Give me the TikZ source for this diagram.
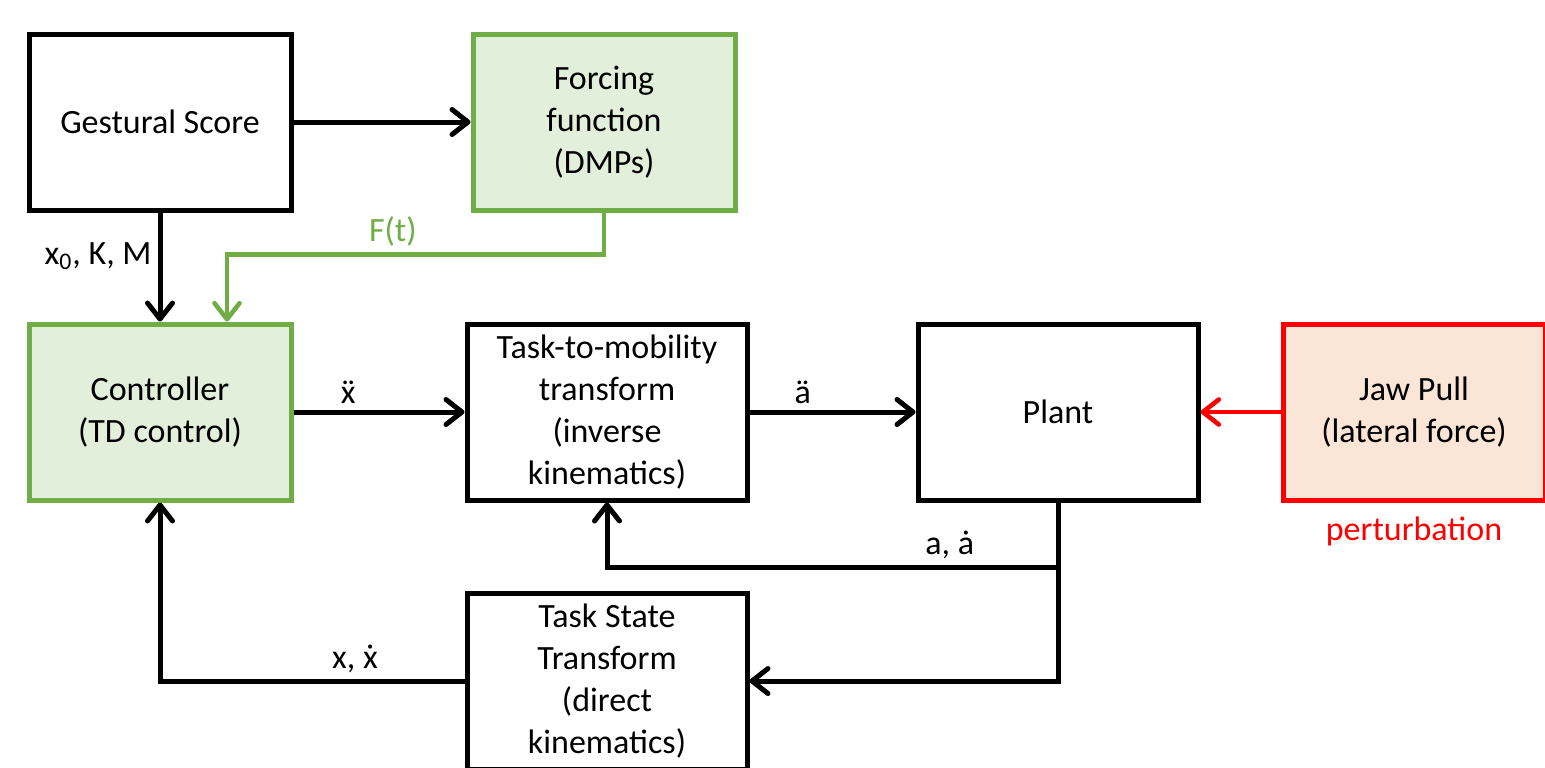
\documentclass[tikz,border=0pt]{standalone}
\usepackage{fontspec}
\setmainfont{Carlito}
\usepackage{tikz}
\usetikzlibrary{
  arrows.meta,
  positioning,
  calc
}
\definecolor{dgGreen}{HTML}{70AD47}
\definecolor{dgGreenLight}{HTML}{E2EFDA}
\definecolor{dgRed}{HTML}{FF0000}
\definecolor{dgRedLight}{HTML}{FBE5D6}
% dots over a letter, from the spacing accents of the font
\newcommand{\dgddot}[1]{\accent"00A8 #1}
\newcommand{\dgdot}[1]{\accent"02D9 #1}
\tikzset{
  dgnode/.style={
    draw, line width=2.5pt, minimum height=88pt, inner sep=1pt,
    font=\fontsize{17}{21}\selectfont, align=center
  },
  dgbox/.style={dgnode, minimum width=131pt},
  dgwide/.style={dgnode, minimum width=140pt},
  ctrlbox/.style={dgbox, fill=dgGreenLight, draw=dgGreen},
  pertbox/.style={dgbox, fill=dgRedLight, draw=dgRed},
  sig/.style={-{Straight Barb[length=8pt, width=12.5pt, round]}, line width=2.5pt},
  fsig/.style={sig, line width=2.3pt, dgGreen},
  psig/.style={sig, line width=2.3pt, dgRed},
  lbl/.style={font=\fontsize{17}{21}\selectfont, inner sep=3pt}
}
\begin{document}
\begin{tikzpicture}[x=0.5pt, y=-0.5pt]
  \useasboundingbox (0,0) rectangle (1545,767);
  % blocks
  \node[dgbox] (gest) at (160,122) {Gestural Score};
  \node[ctrlbox, right=88.5pt of gest] (forc) {Forcing\\function\\(DMPs)};
  \node[ctrlbox, below=54.5pt of gest] (ctrl) {Controller\\(TD control)};
  \node[dgwide, right=85.5pt of ctrl] (task) {Task-to-mobility\\transform\\(inverse\\kinematics)};
  \node[dgwide, right=83pt of task] (plant) {Plant};
  \node[pertbox, right=40pt of plant] (jaw) {Jaw Pull\\(lateral force)};
  \node[dgwide, below=44pt of task] (state) {Task State\\Transform\\(direct\\kinematics)};
  \node[lbl, text=dgRed, below=4pt of jaw] (pert) {perturbation};
  % signals
  \draw[sig] (gest) -- (forc);
  \draw[sig] (gest) -- node[lbl, left, pos=0.4] (kparams) {x\textsubscript{0}, K, M} (ctrl);
  \draw[fsig] (forc.south) -- ++(0,42) -| node[lbl, text=dgGreen, above, pos=0.28] (ft) {F(t)} ([xshift=33.5pt]ctrl.north);
  \draw[sig] (ctrl) -- node[lbl, above, pos=0.32] (xdd) {\dgddot{x}} (task);
  \draw[sig] (task) -- node[lbl, above, pos=0.32] (add) {\dgddot{a}} (plant);
  \draw[psig] (jaw) -- (plant);
  % feedback
  \draw[sig] (plant.south) -- ++(0,65) coordinate (split) -| node[lbl, above, pos=0.12] (avel) {a, \dgdot{a}} (task.south);
  \draw[sig] (split) |- (state.east);
  \draw[sig] (state.west) -| node[lbl, above, pos=0.18] (xvel) {x, \dgdot{x}} (ctrl.south);
\end{tikzpicture}
\end{document}
